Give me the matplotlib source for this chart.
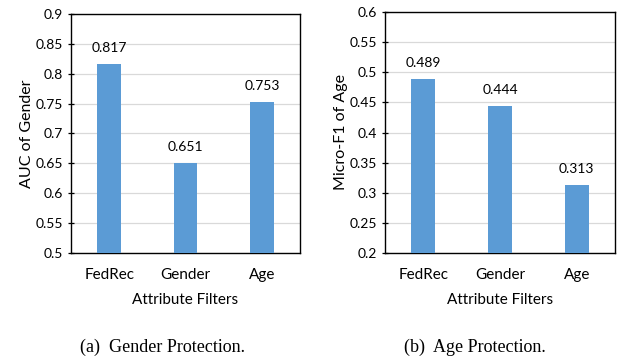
import matplotlib
matplotlib.use("Agg")
import matplotlib.pyplot as plt
import numpy as np

categories = ["FedRec", "Gender", "Age"]
auc_gender = [0.817, 0.651, 0.753]
f1_age = [0.489, 0.444, 0.313]
auc_ticks = [0.5, 0.55, 0.6, 0.65, 0.7, 0.75, 0.8, 0.85, 0.9]
f1_ticks = [0.2, 0.25, 0.3, 0.35, 0.4, 0.45, 0.5, 0.55, 0.6]
auc_ticklabels = ["0.5", "0.55", "0.6", "0.65", "0.7", "0.75", "0.8", "0.85", "0.9"]
f1_ticklabels = ["0.2", "0.25", "0.3", "0.35", "0.4", "0.45", "0.5", "0.55", "0.6"]

BAR = "#5B9BD5"
SANS = ["Lato", "DejaVu Sans"]
SERIF = ["Liberation Serif", "DejaVu Serif"]

fig = plt.figure(figsize=(6.22, 3.58), dpi=100)
ax1 = fig.add_axes([71/622, 1-253/358, 229/622, 239/358])
ax2 = fig.add_axes([385/622, 1-253/358, 230/622, 241/358])

def draw(ax, vals, ticks, ticklabels, ylabel):
    x = np.arange(len(categories))
    ax.bar(x, vals, width=0.31, color=BAR, zorder=3)
    ax.set_ylim(ticks[0], ticks[-1])
    ax.set_xlim(-0.5, len(categories) - 0.5)
    ax.set_yticks(ticks)
    ax.set_yticklabels(ticklabels, fontfamily=SANS, fontsize=10)
    ax.set_xticks(x)
    ax.set_xticklabels(categories, fontfamily=SANS, fontsize=11)
    ax.yaxis.grid(True, color="#d9d9d9", linewidth=0.9, zorder=0)
    ax.set_axisbelow(True)
    ax.tick_params(axis="y", direction="inout", length=5, width=0.9, pad=3)
    ax.tick_params(axis="x", direction="in", length=4, width=0.9, pad=11)
    for s in ax.spines.values():
        s.set_color("black")
        s.set_linewidth(1.0)
    ax.set_ylabel(ylabel, fontfamily=SANS, fontsize=11.5, labelpad=1)
    ax.set_xlabel("Attribute Filters", fontfamily=SANS, fontsize=11, labelpad=8)
    for xi, v in zip(x, vals):
        ax.annotate(f"{v:.3f}", (xi, v), xytext=(0, 7), textcoords="offset points",
                    ha="center", va="bottom", fontfamily=SANS, fontsize=10)

draw(ax1, auc_gender, auc_ticks, auc_ticklabels, "AUC of Gender")
draw(ax2, f1_age, f1_ticks, f1_ticklabels, "Micro-F1 of Age")

fig.text(162/622, 1-347/358, "(a)  Gender Protection.", ha="center", va="center",
         fontfamily=SERIF, fontsize=13)
fig.text(475/622, 1-347/358, "(b)  Age Protection.", ha="center", va="center",
         fontfamily=SERIF, fontsize=13)

fig.savefig("out.png", dpi=100)
